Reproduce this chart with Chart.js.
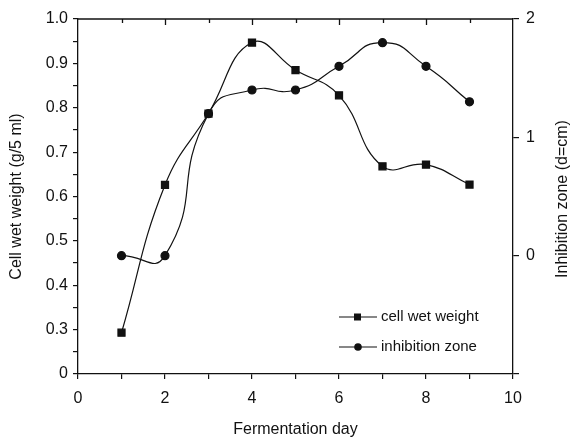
<!DOCTYPE html>
<html>
<head>
<meta charset="utf-8">
<script src="https://cdn.jsdelivr.net/npm/chart.js@4"></script>
<style>
  body { margin: 0; background: #fff; }
  #wrap { width: 574px; height: 439px; }
</style>
</head>
<body>
<div id="wrap"><canvas id="fermChart" width="574" height="439"></canvas></div>
<script>
const days = [1, 2, 3, 4, 5, 6, 7, 8, 9];
const cellWetWeight = [0.293, 0.626, 0.787, 0.947, 0.885, 0.828, 0.668, 0.672, 0.627];
const inhibitionZone = [0, 0, 1.2, 1.4, 1.4, 1.6, 1.8, 1.6, 1.3];
const seriesNames = ["cell wet weight", "inhibition zone"];
const xTicks = [0, 2, 4, 6, 8, 10];
const leftTicks = [0.3, 0.4, 0.5, 0.6, 0.7, 0.8, 0.9, 1.0];
const rightTicks = [0, 1, 2];

const FONT = "'Liberation Sans', Arial, sans-serif";
const INK = "#111";

// top frame line + inward ticks, plus the inset legend and right title
const extras = {
  id: "extras",
  afterDraw(chart){
    const ctx = chart.ctx;
    const area = chart.chartArea;
    const x = chart.scales.x;
    ctx.save();
    ctx.strokeStyle = INK;
    ctx.lineWidth = 1.3;
    ctx.beginPath();
    ctx.moveTo(area.left, area.top);
    ctx.lineTo(area.right, area.top);
    ctx.stroke();
    for(let d = 1; d < 10; d++){
      const px = Math.round(x.getPixelForValue(d)) + 0.5;
      ctx.beginPath();
      ctx.moveTo(px, area.top);
      ctx.lineTo(px, area.top + (d % 2 === 0 ? 6 : 4));
      ctx.stroke();
    }

    // legend
    const rows = [317, 347];
    chart.data.datasets.forEach((ds, i) => {
      const y = rows[i];
      ctx.strokeStyle = INK;
      ctx.lineWidth = 1.2;
      ctx.beginPath();
      ctx.moveTo(339, y);
      ctx.lineTo(377, y);
      ctx.stroke();
      ctx.fillStyle = INK;
      if(ds.pointStyle === "rect"){
        ctx.fillRect(354, y - 3.5, 7, 7);
      } else {
        ctx.beginPath();
        ctx.arc(358, y, 3.8, 0, Math.PI * 2);
        ctx.fill();
      }
      ctx.font = "15px " + FONT;
      ctx.textBaseline = "middle";
      ctx.textAlign = "left";
      ctx.fillText(ds.label, 381, y);
    });

    // right axis title, reading bottom to top
    ctx.translate(563, 199);
    ctx.rotate(-Math.PI / 2);
    ctx.font = "16px " + FONT;
    ctx.textAlign = "center";
    ctx.textBaseline = "middle";
    ctx.fillStyle = INK;
    ctx.fillText("Inhibition zone (d=cm)", 0, 0);
    ctx.restore();
  }
};

const ctx = document.getElementById("fermChart").getContext("2d");
new Chart(ctx, {
  type: "line",
  data: {
    datasets: [{
      label: seriesNames[0],
      data: days.map((d, i) => ({x: d, y: cellWetWeight[i]})),
      yAxisID: "y",
      borderColor: INK,
      backgroundColor: INK,
      borderWidth: 1.2,
      pointStyle: "rect",
      pointRadius: 5,
      tension: 0.45
    }, {
      label: seriesNames[1],
      data: days.map((d, i) => ({x: d, y: inhibitionZone[i]})),
      yAxisID: "y2",
      borderColor: INK,
      backgroundColor: INK,
      borderWidth: 1.2,
      pointStyle: "circle",
      pointRadius: 4,
      tension: 0.55
    }]
  },
  options: {
    responsive: false,
    animation: false,
    layout: { padding: { top: 19, left: 0, right: 0, bottom: 0 } },
    plugins: { legend: { display: false }, tooltip: { enabled: false } },
    scales: {
      x: {
        type: "linear",
        min: 0, max: 10,
        afterFit(s){ s.height = 65; },
        border: { color: INK, width: 1.3 },
        grid: { drawOnChartArea: false, color: INK, tickColor: INK, lineWidth: 1.2, tickLength: 5 },
        ticks: {
          stepSize: 1, autoSkip: false, maxRotation: 0, padding: 10,
          color: INK, font: { family: FONT, size: 16 },
          callback: v => xTicks.includes(v) ? String(v) : ""
        },
        title: {
          display: true, text: "Fermentation day", color: INK,
          font: { family: FONT, size: 16 }, padding: { top: 0, bottom: 0 }
        }
      },
      y: {
        position: "left",
        min: 0.2, max: 1.0,
        afterFit(s){ s.width = 78; },
        border: { color: INK, width: 1.3 },
        grid: { drawOnChartArea: false, color: INK, tickColor: INK, lineWidth: 1.2, tickLength: 5 },
        ticks: {
          stepSize: 0.05, autoSkip: false, padding: 5,
          color: INK, font: { family: FONT, size: 16 },
          callback: v => {
            const r = Math.round(v * 100) / 100;
            if(Math.abs(r - 0.2) < 1e-6) return "0";
            return leftTicks.some(t => Math.abs(t - r) < 1e-6) ? r.toFixed(1) : "";
          }
        },
        title: {
          display: true, text: "Cell wet weight (g/5 ml)", color: INK,
          font: { family: FONT, size: 16 }, padding: { top: 7, bottom: 0 }
        }
      },
      y2: {
        position: "right",
        min: -1, max: 2,
        afterFit(s){ s.width = 61; },
        border: { color: INK, width: 1.3 },
        grid: { drawOnChartArea: false, color: INK, tickColor: INK, lineWidth: 1.2, tickLength: 6 },
        ticks: {
          stepSize: 1, autoSkip: false, padding: 7,
          color: INK, font: { family: FONT, size: 16 },
          callback: v => rightTicks.includes(v) ? String(v) : ""
        }
      }
    }
  },
  plugins: [extras]
});
</script>
</body>
</html>
